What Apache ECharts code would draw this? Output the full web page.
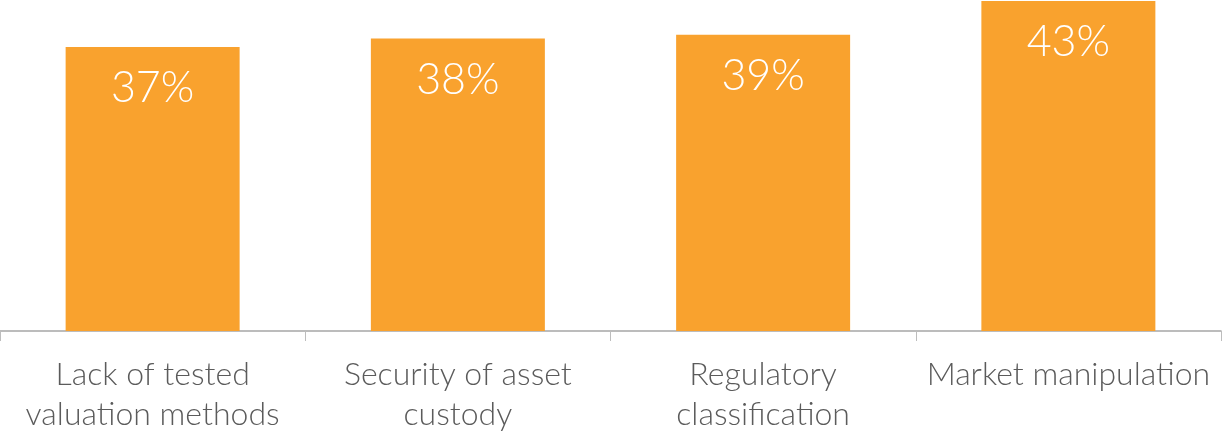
<!DOCTYPE html>
<html><head><meta charset="utf-8">
<script src="https://cdn.jsdelivr.net/npm/echarts@6/dist/echarts.min.js"></script>
<style>html,body{margin:0;padding:0;background:#fff}#c{width:1222px;height:432px}</style>
</head><body><div id="c"></div>
<script>
const categories = ["Lack of tested\nvaluation methods", "Security of asset\ncustody", "Regulatory\nclassification", "Market manipulation"];
const values = [37, 38.1, 38.6, 43];

const chart = echarts.init(document.getElementById('c'));
chart.setOption({
  animation: false,
  grid: {left: 0, right: 1, top: 1, bottom: 101, containLabel: false, outerBoundsMode: 'none'},
  xAxis: {
    type: 'category', data: categories,
    axisLine: {lineStyle: {color: '#a6a6a6', width: 1.5}},
    axisTick: {show: true, length: 10, lineStyle: {color: '#bdbdbd'}},
    axisLabel: {color: '#5b5b5b', fontFamily: 'Lato', fontWeight: 300, fontSize: 32, lineHeight: 40, margin: 24, interval: 0}
  },
  yAxis: {type: 'value', min: 0, max: 43, show: false, splitLine: {show: false}},
  series: [{
    type: 'bar', data: values, barWidth: '57%',
    itemStyle: {color: '#F9A22E'},
    label: {show: true, position: 'insideTop', distance: 20, color: '#fff', fontFamily: 'Lato', fontWeight: 300, fontSize: 43,
      formatter: p => Math.round(p.value) + '%'}
  }]
});
</script></body></html>
